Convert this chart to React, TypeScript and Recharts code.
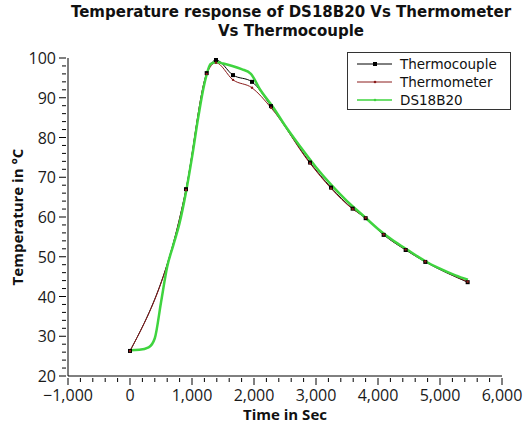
import React from 'react'
import { LineChart, Line, XAxis, YAxis, Label } from 'recharts'

// Thermocouple (black, square markers)
const tcTime = [0, 903, 1237, 1387, 1661, 1968, 2274, 2903, 3242, 3591, 3801, 4091, 4446, 4763, 5446]
const tcTemp = [26.3, 67.0, 96.2, 99.5, 95.7, 94.0, 87.9, 73.7, 67.4, 62.1, 59.7, 55.5, 51.7, 48.7, 43.6]

// Thermometer (dark red)
const tmTime = [0, 903, 1237, 1387, 1661, 1968, 2274, 2903, 3242, 3591, 3801, 4091, 4446, 4763, 5446]
const tmTemp = [26.3, 66.8, 96.0, 98.8, 94.5, 92.5, 87.5, 73.5, 67.2, 62.0, 59.8, 55.6, 51.8, 48.8, 43.7]

// DS18B20 (green)
const dsTime = [0, 150, 300, 400, 500, 600, 700, 800, 900, 1000, 1100, 1200, 1300, 1400, 1500, 1650, 1800, 1950, 2100, 2300, 2500, 2750, 3000, 3250, 3500, 3750, 4000, 4250, 4500, 4750, 5000, 5250, 5450]
const dsTemp = [26.5, 26.6, 27.2, 29.5, 38.5, 47.5, 53.0, 58.5, 66.0, 75.0, 85.0, 93.5, 98.5, 99.0, 98.6, 98.0, 97.2, 96.0, 92.0, 87.8, 83.0, 77.6, 72.5, 68.0, 64.0, 60.5, 57.0, 54.0, 51.5, 49.0, 47.0, 45.3, 44.2]

const seriesNames = ['Thermocouple', 'Thermometer', 'DS18B20']
const seriesColors = ['#000000', '#8b1c1c', '#3fd43f']

const xTicks = Array.from({ length: 36 }, (_, i) => -1000 + i * 200)
const yTicks = Array.from({ length: 41 }, (_, i) => 20 + i * 2)

const thermocouple = tcTime.map((t, i) => ({ time: t, temp: tcTemp[i] }))
const thermometer = tmTime.map((t, i) => ({ time: t, temp: tmTemp[i] }))
const ds18b20 = dsTime.map((t, i) => ({ time: t, temp: dsTemp[i] }))

const font = '"Open Sans", "DejaVu Sans", sans-serif'
const compact = '"DejaVu Sans", sans-serif'

const fmt = (v: number) =>
    v < 0 ? '\u2212' + Math.abs(v).toLocaleString('en-US') : v.toLocaleString('en-US')

const XTick = (props: any) => {
    const { x, y, payload } = props
    const major = payload.value % 1000 === 0
    return (
        <g>
            <line x1={x} y1={y} x2={x} y2={y + (major ? 7 : 4)} stroke='#000' />
            {major && (
                <text x={x} y={y + 23} textAnchor='middle' fontSize={16} fontFamily={font} fill='#1a1a1a'>
                    {fmt(payload.value)}
                </text>
            )}
        </g>
    )
}

const YTick = (props: any) => {
    const { x, y, payload } = props
    const major = payload.value % 10 === 0
    return (
        <g>
            <line x1={x} y1={y} x2={x - (major ? 7 : 4)} y2={y} stroke='#000' />
            {major && (
                <text x={x - 10} y={y + 6} textAnchor='end' fontSize={16} fontFamily={font} fill='#1a1a1a'>
                    {payload.value}
                </text>
            )}
        </g>
    )
}

const squareDot = (p: any) => (
    <rect key={'sq' + p.index} x={p.cx - 2} y={p.cy - 2} width={4} height={4} fill='#000' />
)

const LegendBox = () => (
    <div
        style={{
            position: 'absolute',
            left: 347,
            top: 52,
            width: 162,
            height: 56,
            border: '1px solid #333',
            background: '#fff',
            fontFamily: compact,
            fontSize: 13.5,
            color: '#111',
        }}
    >
        {seriesNames.map((n, i) => (
            <div key={n} style={{ height: 18, display: 'flex', alignItems: 'center', marginTop: i === 0 ? 2 : 0 }}>
                <svg width={52} height={18} style={{ flex: 'none' }}>
                    <line x1={9} y1={9} x2={44} y2={9} stroke={seriesColors[i]} strokeWidth={i === 2 ? 1.5 : 1} />
                    {i === 0 ? (
                        <rect x={25} y={7} width={4} height={4} fill='#000' />
                    ) : (
                        <circle cx={27} cy={9} r={1.3} fill={seriesColors[i]} />
                    )}
                </svg>
                <span style={{ whiteSpace: 'nowrap', lineHeight: '18px' }}>{n}</span>
            </div>
        ))}
    </div>
)

const titleStyle: React.CSSProperties = {
    position: 'absolute',
    left: 41,
    width: 500,
    height: 19,
    textAlign: 'center',
    fontFamily: compact,
    fontWeight: 700,
    fontSize: 15,
    lineHeight: '19px',
    color: '#111',
    whiteSpace: 'nowrap',
}

export default function App() {
    return (
        <div style={{ position: 'absolute', left: 0, top: 0, width: 527, height: 431, background: '#fff' }}>
            <LineChart width={527} height={431} margin={{ top: 58, right: 25, bottom: 0, left: 0 }}>
                <XAxis
                    type='number'
                    dataKey='time'
                    domain={[-1000, 6000]}
                    ticks={xTicks}
                    interval={0}
                    tickLine={false}
                    tickSize={0}
                    tick={XTick}
                    height={55}
                    axisLine={{ stroke: '#000' }}
                    allowDataOverflow
                >
                    <Label
                        value='Time in Sec'
                        position='insideBottom'
                        offset={11}
                        style={{ fontFamily: font, fontWeight: 700, fontSize: 15, fill: '#111' }}
                    />
                </XAxis>
                <YAxis
                    type='number'
                    domain={[20, 100]}
                    ticks={yTicks}
                    interval={0}
                    tickLine={false}
                    tickSize={0}
                    tick={YTick}
                    width={68}
                    axisLine={{ stroke: '#000' }}
                    allowDataOverflow
                >
                    <Label
                        value='Temperature in °C'
                        angle={-90}
                        position='insideLeft'
                        offset={18}
                        style={{ textAnchor: 'middle', fontFamily: font, fontWeight: 700, fontSize: 15, fill: '#111' }}
                    />
                </YAxis>
                <Line
                    data={thermocouple}
                    dataKey='temp'
                    name={seriesNames[0]}
                    type='monotone'
                    stroke={seriesColors[0]}
                    strokeWidth={1}
                    dot={squareDot}
                    isAnimationActive={false}
                />
                <Line
                    data={thermometer}
                    dataKey='temp'
                    name={seriesNames[1]}
                    type='monotone'
                    stroke={seriesColors[1]}
                    strokeWidth={1}
                    dot={{ r: 1.2, fill: seriesColors[1], stroke: 'none' }}
                    isAnimationActive={false}
                />
                <Line
                    data={ds18b20}
                    dataKey='temp'
                    name={seriesNames[2]}
                    type='monotone'
                    stroke={seriesColors[2]}
                    strokeWidth={2.5}
                    dot={false}
                    isAnimationActive={false}
                />
            </LineChart>
            <div style={{ ...titleStyle, top: 3 }}>Temperature response of DS18B20 Vs Thermometer</div>
            <div style={{ ...titleStyle, top: 22 }}>Vs Thermocouple</div>
            <LegendBox />
        </div>
    )
}
